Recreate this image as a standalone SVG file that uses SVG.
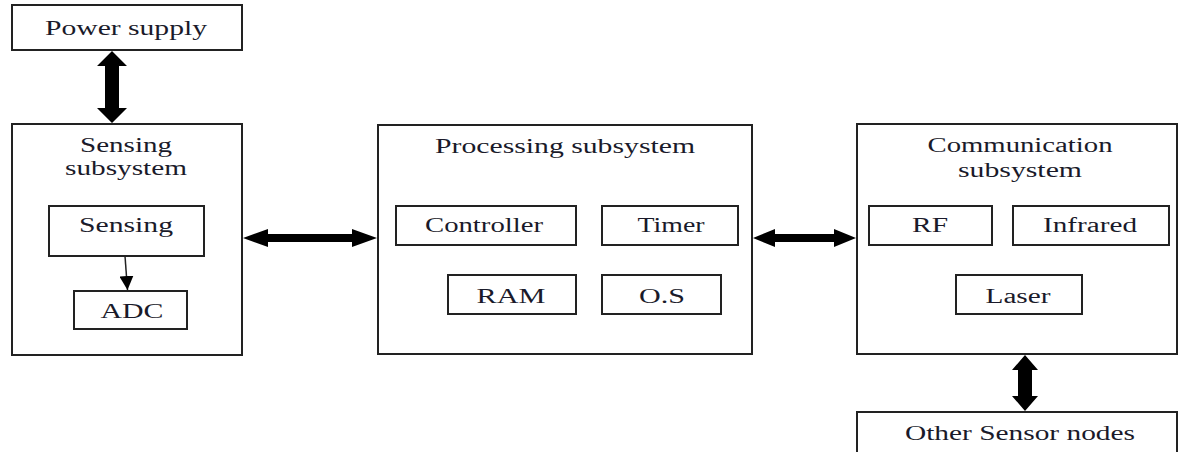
<svg xmlns="http://www.w3.org/2000/svg" width="1178" height="452" viewBox="0 0 1178 452">
<defs>
<style>
.box{fill:#fff;stroke:#222;stroke-width:2}
.arr{fill:#000}
</style>
<marker id="head" viewBox="0 0 14 14" refX="14" refY="7" markerWidth="14" markerHeight="14" markerUnits="userSpaceOnUse" orient="auto"><path d="M0,0 L14,7 L0,14 z" fill="#000"/></marker>
</defs>
<rect width="1178" height="452" fill="#fff"/>
<g font-family="Liberation Serif" font-size="20" fill="#1a1a2a" text-anchor="middle">
<g id="power">
<rect class="box" x="12" y="5" width="230" height="45"/>
<text x="126" y="35" textLength="162" lengthAdjust="spacingAndGlyphs">Power supply</text>
</g>
<g id="sensing-subsystem">
<rect class="box" x="12" y="124" width="230" height="231"/>
<text x="126" y="152" textLength="92" lengthAdjust="spacingAndGlyphs">Sensing</text>
<text x="126" y="175" textLength="122" lengthAdjust="spacingAndGlyphs">subsystem</text>
</g>
<g id="sensing">
<rect class="box" x="49" y="206" width="155" height="50"/>
<text x="126" y="232" textLength="94" lengthAdjust="spacingAndGlyphs">Sensing</text>
</g>
<g id="adc">
<rect class="box" x="74" y="291" width="113" height="38"/>
<text x="132" y="318" textLength="63" lengthAdjust="spacingAndGlyphs">ADC</text>
</g>
<g id="processing-subsystem">
<rect class="box" x="378" y="125" width="374" height="229"/>
<text x="565" y="153" textLength="260" lengthAdjust="spacingAndGlyphs">Processing subsystem</text>
</g>
<g id="controller">
<rect class="box" x="396" y="206" width="180" height="39"/>
<text x="484" y="232" textLength="118" lengthAdjust="spacingAndGlyphs">Controller</text>
</g>
<g id="timer">
<rect class="box" x="602" y="206" width="136" height="39"/>
<text x="671" y="232" textLength="67" lengthAdjust="spacingAndGlyphs">Timer</text>
</g>
<g id="ram">
<rect class="box" x="448" y="275" width="128" height="39"/>
<text x="511" y="303" textLength="69" lengthAdjust="spacingAndGlyphs">RAM</text>
</g>
<g id="os">
<rect class="box" x="602" y="275" width="119" height="39"/>
<text x="662" y="303" textLength="46" lengthAdjust="spacingAndGlyphs">O.S</text>
</g>
<g id="communication-subsystem">
<rect class="box" x="857" y="124" width="320" height="230"/>
<text x="1020" y="152" textLength="185" lengthAdjust="spacingAndGlyphs">Communication</text>
<text x="1020" y="177" textLength="124" lengthAdjust="spacingAndGlyphs">subsystem</text>
</g>
<g id="rf">
<rect class="box" x="869" y="206" width="123" height="39"/>
<text x="930" y="232" textLength="36" lengthAdjust="spacingAndGlyphs">RF</text>
</g>
<g id="infrared">
<rect class="box" x="1013" y="206" width="156" height="39"/>
<text x="1090" y="232" textLength="94" lengthAdjust="spacingAndGlyphs">Infrared</text>
</g>
<g id="laser">
<rect class="box" x="956" y="275" width="126" height="39"/>
<text x="1018" y="303" textLength="65" lengthAdjust="spacingAndGlyphs">Laser</text>
</g>
<g id="other-nodes">
<rect class="box" x="857" y="412" width="320" height="50"/>
<text x="1020" y="440" textLength="230" lengthAdjust="spacingAndGlyphs">Other Sensor nodes</text>
</g>
</g>
<g id="connectors">
<polygon class="arr" points="112,51 127,66 119,66 119,108 127,108 112,123 97,108 105,108 105,66 97,66"/>
<polygon class="arr" points="243,238 268,229 268,234 352,234 352,229 377,238 352,247 352,242 268,242 268,247"/>
<polygon class="arr" points="753,238 775,229 775,234 834,234 834,229 856,238 834,247 834,242 775,242 775,247"/>
<polygon class="arr" points="1025,355 1038,370 1032,370 1032,396 1038,396 1025,411 1012,396 1018,396 1018,370 1012,370"/>
<line x1="125" y1="256" x2="127.5" y2="290" stroke="#222" stroke-width="1.5" marker-end="url(#head)"/>
</g>
</svg>
